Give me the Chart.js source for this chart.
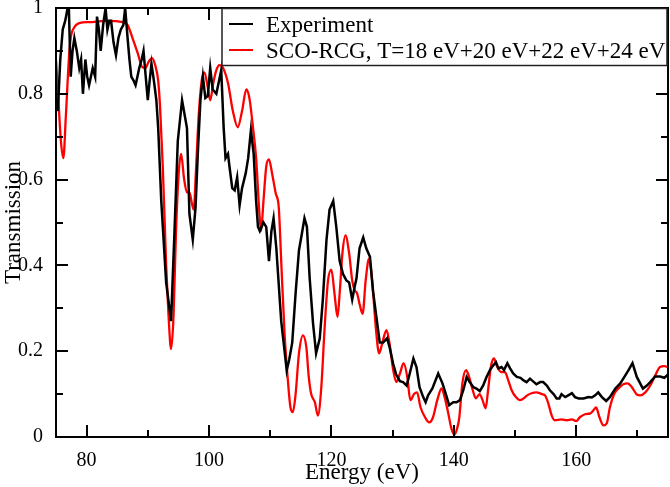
<!DOCTYPE html>
<html>
<head>
<meta charset="utf-8">
<script src="https://cdn.jsdelivr.net/npm/chart.js@4/dist/chart.umd.min.js"></script>
<style>
  html, body { margin: 0; padding: 0; background: #fff; }
  canvas { display: block; }
</style>
</head>
<body>
<canvas id="c" width="670" height="487"></canvas>
<script>
// experiment (black, jagged)
const expEnergy = [75.0,75.3,75.7,76.1,76.5,76.9,77.1,77.4,77.7,78.0,78.4,78.8,79.1,79.4,79.8,80.1,80.4,80.7,81.0,81.4,81.7,82.0,82.3,82.7,83.1,83.4,83.7,84.0,84.4,84.8,85.2,85.6,86.0,86.3,86.7,87.0,87.3,87.7,88.0,88.3,88.6,89.0,89.3,89.6,90.0,90.3,90.6,91.0,91.4,91.7,92.2,93.0,93.8,94.35,94.9,95.6,96.4,96.8,97.35,97.8,98.2,98.6,99.0,99.4,99.8,100.2,100.6,101.2,102.0,102.4,102.7,103.1,103.35,103.8,104.2,104.6,105.0,105.4,106.0,106.4,106.85,107.3,107.7,108.0,108.3,108.9,109.35,109.8,110.2,110.55,111.0,111.8,112.35,112.7,113.1,113.6,114.15,114.7,115.25,115.6,116.0,116.45,117.0,117.5,118.1,118.6,119.2,119.7,120.3,120.8,121.35,121.9,122.45,122.9,123.4,123.8,124.1,124.6,125.2,125.7,126.3,126.8,127.35,127.9,128.45,129.1,129.5,130.1,130.6,131.2,131.7,132.3,132.8,133.4,133.9,134.4,135.0,135.4,135.8,136.5,137.45,138.15,138.7,139.25,139.9,140.45,141.0,141.55,142.1,142.6,143.2,143.7,144.25,144.8,145.35,145.9,146.45,146.9,147.3,147.8,148.2,148.75,149.2,149.7,150.3,150.9,151.4,151.9,152.45,153.1,153.5,154.1,154.6,155.2,155.7,156.3,156.8,157.25,157.6,158.2,158.7,159.3,159.8,160.4,161.2,162.0,162.55,163.1,163.6,164.2,164.9,165.5,166.4,167.2,168.0,168.55,169.2,169.9,170.9,171.55,172.1,172.9,173.7,174.4,174.8,175.0];
const expTrans = [0.79,0.76,0.88,0.95,0.97,1.0,1.0,0.84,0.90,0.93,0.90,0.86,0.88,0.80,0.88,0.84,0.82,0.84,0.86,0.84,0.98,0.95,0.90,0.96,1.0,0.95,0.97,0.97,0.92,0.89,0.93,0.95,0.96,1.0,0.93,0.88,0.84,0.83,0.82,0.84,0.86,0.88,0.90,0.85,0.785,0.83,0.87,0.83,0.785,0.72,0.55,0.36,0.27,0.475,0.69,0.785,0.72,0.52,0.46,0.535,0.67,0.785,0.84,0.79,0.795,0.86,0.81,0.80,0.855,0.72,0.65,0.66,0.63,0.58,0.575,0.605,0.54,0.58,0.615,0.65,0.715,0.66,0.55,0.49,0.48,0.50,0.49,0.41,0.48,0.51,0.44,0.27,0.20,0.155,0.18,0.22,0.335,0.435,0.48,0.51,0.49,0.37,0.265,0.195,0.23,0.32,0.46,0.53,0.55,0.49,0.41,0.38,0.365,0.36,0.32,0.35,0.37,0.44,0.465,0.44,0.42,0.34,0.28,0.22,0.22,0.23,0.21,0.17,0.145,0.13,0.128,0.12,0.148,0.183,0.163,0.116,0.093,0.081,0.097,0.113,0.148,0.125,0.10,0.074,0.081,0.081,0.086,0.109,0.14,0.128,0.116,0.113,0.107,0.12,0.14,0.156,0.167,0.174,0.16,0.163,0.156,0.172,0.16,0.148,0.14,0.138,0.132,0.128,0.136,0.128,0.123,0.128,0.128,0.12,0.109,0.10,0.09,0.09,0.10,0.093,0.097,0.102,0.093,0.09,0.09,0.093,0.092,0.097,0.104,0.093,0.084,0.093,0.113,0.125,0.143,0.156,0.172,0.14,0.113,0.12,0.128,0.141,0.141,0.138,0.143,0.146];

// SCO-RCG calculation (red, smooth)
const calcEnergy = [75.0,75.4,75.8,76.2,76.6,77.1,77.4,78.0,78.8,80.4,83.2,85.9,86.7,87.5,88.35,89.1,89.6,90.15,90.7,91.2,91.7,92.0,92.45,93.0,93.4,93.8,94.2,94.6,95.05,95.45,95.9,96.4,96.8,97.2,97.5,97.9,98.3,98.8,99.25,99.8,100.2,100.7,101.2,101.7,102.3,103.1,103.9,104.7,105.4,106.1,106.6,107.2,107.7,108.2,108.5,108.9,109.35,109.8,110.3,110.9,111.4,111.8,112.35,112.9,113.3,113.7,114.15,114.7,115.35,115.9,116.3,116.7,117.3,117.8,118.35,118.9,119.45,120.0,120.5,121.0,121.35,121.8,122.3,122.9,123.4,123.8,124.2,124.6,125.1,125.6,126.15,126.7,127.25,127.8,128.3,129.0,129.5,130.1,130.6,131.2,131.8,132.4,132.9,133.5,134.0,134.55,135.3,136.0,136.6,137.3,138.0,138.5,139.1,139.6,140.1,140.6,140.9,141.4,142.0,142.5,143.1,143.6,144.2,144.7,145.2,145.6,146.05,146.55,147.1,147.8,148.35,148.9,149.45,150.15,150.8,151.4,152.0,152.7,153.5,154.4,154.9,155.45,156.0,156.5,157.6,158.45,159.3,160.0,160.6,161.45,162.3,162.8,163.25,163.8,164.45,165.0,165.5,166.2,166.9,167.7,168.4,169.1,169.9,170.45,171.3,172.1,172.9,173.7,174.4,175.0];
const calcTrans = [0.88,0.785,0.69,0.65,0.745,0.88,0.93,0.955,0.965,0.967,0.97,0.967,0.96,0.93,0.895,0.862,0.86,0.875,0.883,0.867,0.83,0.77,0.63,0.40,0.28,0.205,0.28,0.475,0.615,0.66,0.605,0.57,0.57,0.545,0.53,0.63,0.745,0.83,0.85,0.815,0.785,0.825,0.855,0.867,0.86,0.825,0.76,0.722,0.76,0.81,0.79,0.72,0.65,0.53,0.48,0.55,0.63,0.647,0.615,0.568,0.535,0.41,0.24,0.13,0.07,0.058,0.10,0.195,0.237,0.21,0.14,0.10,0.081,0.05,0.116,0.256,0.365,0.39,0.335,0.28,0.335,0.428,0.47,0.428,0.365,0.342,0.335,0.31,0.287,0.365,0.416,0.358,0.256,0.195,0.218,0.249,0.218,0.156,0.128,0.148,0.172,0.14,0.086,0.10,0.104,0.07,0.046,0.034,0.046,0.086,0.113,0.093,0.055,0.02,0.006,0.023,0.046,0.125,0.156,0.14,0.109,0.09,0.10,0.086,0.067,0.109,0.163,0.183,0.163,0.151,0.151,0.132,0.109,0.093,0.086,0.09,0.097,0.102,0.104,0.10,0.097,0.078,0.05,0.039,0.041,0.039,0.041,0.037,0.046,0.053,0.055,0.062,0.069,0.046,0.027,0.032,0.069,0.10,0.113,0.123,0.125,0.116,0.099,0.097,0.104,0.12,0.143,0.163,0.165,0.163];

const xTickValues = [80, 100, 120, 140, 160];
const xMinorValues = [90, 110, 130, 150, 170];
const yTickValues = [0, 0.2, 0.4, 0.6, 0.8, 1];
const yMinorValues = [0.1, 0.3, 0.5, 0.7, 0.9];
const seriesLabels = ['Experiment', 'SCO-RCG, T=18 eV+20 eV+22 eV+24 eV'];
const xTitle = 'Energy (eV)';
const yTitle = 'Transmission';

const serif = 'Liberation Serif';
const toPoints = (xs, ys) => xs.map((x, i) => ({ x: x, y: ys[i] }));

// inward ticks on all four sides + frame
const frame = {
  id: 'frame',
  afterDraw(chart) {
    const ctx = chart.ctx;
    const a = chart.chartArea;
    const sx = chart.scales.x, sy = chart.scales.y;
    ctx.save();
    ctx.strokeStyle = '#000';
    ctx.lineWidth = 2;
    const seg = (x1, y1, x2, y2) => {
      ctx.beginPath(); ctx.moveTo(x1, y1); ctx.lineTo(x2, y2); ctx.stroke();
    };
    const xTick = (v, len) => {
      const p = Math.round(sx.getPixelForValue(v));
      seg(p, a.bottom, p, a.bottom - len);
      seg(p, a.top, p, a.top + len);
    };
    const yTick = (v, len) => {
      const p = Math.round(sy.getPixelForValue(v));
      seg(a.left, p, a.left + len, p);
      seg(a.right, p, a.right - len, p);
    };
    xTickValues.forEach(v => xTick(v, 12));
    xMinorValues.forEach(v => xTick(v, 7));
    yTickValues.forEach(v => yTick(v, 12));
    yMinorValues.forEach(v => yTick(v, 7));
    ctx.strokeRect(a.left, a.top, a.right - a.left, a.bottom - a.top);
    ctx.restore();
  }
};

// boxed legend in the upper right corner
const boxLegend = {
  id: 'boxLegend',
  afterDraw(chart) {
    const { ctx } = chart;
    ctx.save();
    ctx.fillStyle = '#fff';
    ctx.fillRect(222, 9, 445, 57);
    ctx.strokeStyle = '#222';
    ctx.lineWidth = 1.5;
    ctx.strokeRect(222, 8.5, 445, 57);
    ctx.font = '23px "' + serif + '"';
    ctx.textBaseline = 'alphabetic';
    ctx.fillStyle = '#000';
    chart.data.datasets.forEach((ds, i) => {
      const yy = 24 + i * 26;
      ctx.strokeStyle = ds.borderColor;
      ctx.lineWidth = 2;
      ctx.beginPath();
      ctx.moveTo(229, yy); ctx.lineTo(253, yy);
      ctx.stroke();
      ctx.fillText(ds.label, 266, yy + 8);
    });
    ctx.restore();
  }
};

const fmt = v => String(Number(v.toFixed(2)));

new Chart(document.getElementById('c'), {
  type: 'line',
  data: {
    datasets: [
      {
        label: seriesLabels[0],
        data: toPoints(expEnergy, expTrans),
        borderColor: '#000000',
        borderWidth: 2.5,
        pointRadius: 0,
        tension: 0,
        fill: false
      },
      {
        label: seriesLabels[1],
        data: toPoints(calcEnergy, calcTrans),
        borderColor: '#ff0000',
        borderWidth: 2.3,
        pointRadius: 0,
        cubicInterpolationMode: 'monotone',
        fill: false
      }
    ]
  },
  options: {
    responsive: false,
    animation: false,
    events: [],
    layout: { padding: { top: 8, right: 2, left: 0, bottom: 0 } },
    plugins: {
      legend: { display: false },
      tooltip: { enabled: false }
    },
    scales: {
      x: {
        type: 'linear',
        min: 75,
        max: 175,
        grid: { display: false },
        border: { display: false },
        afterBuildTicks(scale) { scale.ticks = xTickValues.map(v => ({ value: v })); },
        ticks: {
          maxRotation: 0,
          padding: 4,
          color: '#000',
          font: { family: serif, size: 20 },
          callback: fmt
        },
        title: {
          display: true,
          text: xTitle,
          color: '#000',
          font: { family: serif, size: 23 },
          padding: { top: 0, bottom: 0 }
        },
        afterFit(scale) {
          scale.height = 50;
          scale.paddingLeft = 0;
          scale.paddingRight = 0;
        }
      },
      y: {
        min: 0,
        max: 1,
        grid: { display: false },
        border: { display: false },
        afterBuildTicks(scale) { scale.ticks = yTickValues.map(v => ({ value: v })); },
        ticks: {
          padding: 5,
          color: '#000',
          font: { family: serif, size: 20 },
          callback: fmt
        },
        title: {
          display: true,
          text: yTitle,
          color: '#000',
          font: { family: serif, size: 23 },
          padding: { top: 0, bottom: 0 }
        },
        afterFit(scale) {
          scale.width = 56;
          scale.paddingTop = 0;
          scale.paddingBottom = 0;
        }
      }
    }
  },
  plugins: [frame, boxLegend]
});
</script>
</body>
</html>
